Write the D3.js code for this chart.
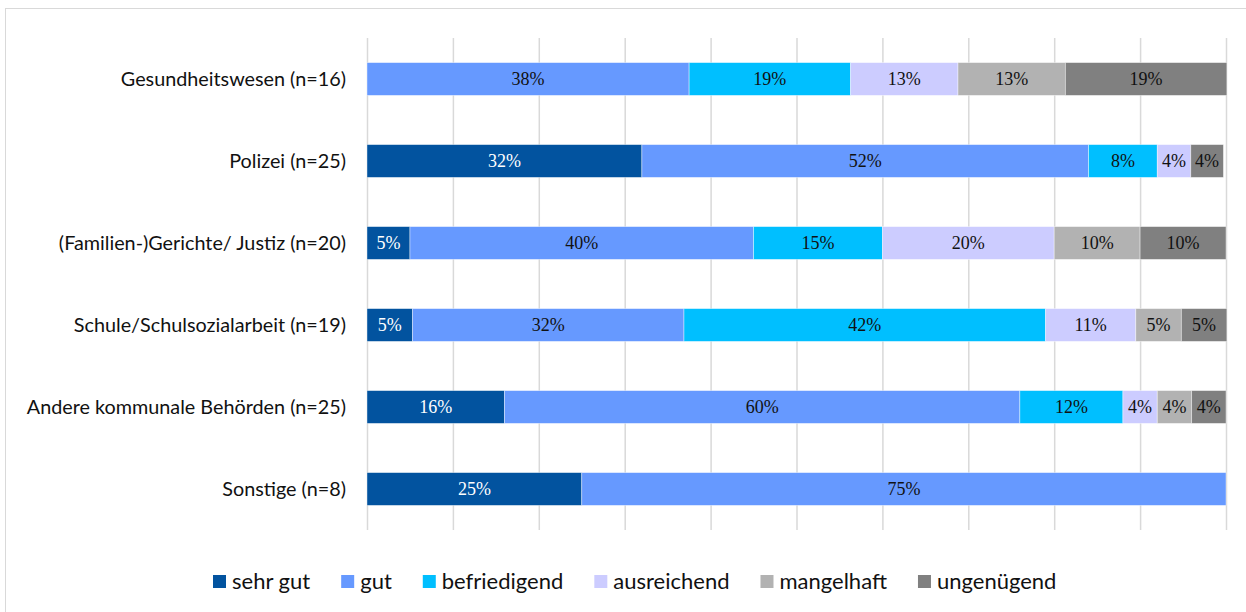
<!DOCTYPE html>
<html>
<head>
<meta charset="utf-8">
<script src="https://cdn.jsdelivr.net/npm/d3@7"></script>
<style>
	body{margin:0;background:#fff;}
</style>
</head>
<body>
<div id="chart"></div>
<script>
var categories=['Gesundheitswesen (n=16)','Polizei (n=25)','(Familien-)Gerichte/ Justiz (n=20)','Schule/Schulsozialarbeit (n=19)','Andere kommunale Behörden (n=25)','Sonstige (n=8)'];
var seriesNames=['sehr gut','gut','befriedigend','ausreichend','mangelhaft','ungenügend'];
// Prozentwerte je Kategorie
var sehrGut=[0,32,5,5.3,16,25];
var gut=[37.5,52,40,31.6,60,75];
var befriedigend=[18.8,8,15,42.1,12,0];
var ausreichend=[12.5,3.9,20,10.5,4,0];
var mangelhaft=[12.5,0,10,5.3,4,0];
var ungenuegend=[18.8,3.8,10,5.3,4,0];
var gridTicks=[0,10,20,30,40,50,60,70,80,90,100];

var seriesValues=[sehrGut,gut,befriedigend,ausreichend,mangelhaft,ungenuegend];
var colors=['#02539f','#6699ff','#00bfff','#ccccff','#b2b2b2','#808080'];
var textColors=['#fff','#111','#111','#111','#111','#111'];
var sansFont='Lato, "Open Sans", sans-serif';

var W=1246,H=612;
var svg=d3.select('#chart').append('svg').attr('width',W).attr('height',H);

svg.append('rect').attr('x',5.5).attr('y',8.5).attr('width',W).attr('height',H)
	.attr('fill','#fff').attr('stroke','#d9d9d9');

var x=d3.scaleLinear().domain([0,100]).range([367,1226]);
var y=d3.scaleBand().domain(categories).range([38,530]).paddingInner(0.6).paddingOuter(0.3);

//Gitterlinien
svg.append('g').selectAll('line').data(gridTicks).enter().append('line')
	.attr('x1',function(d){return x(d)+0.5;}).attr('x2',function(d){return x(d)+0.5;})
	.attr('y1',38).attr('y2',530)
	.attr('stroke','#d9d9d9').attr('stroke-width',1.5);

//gestapelte Daten
var rows=categories.map(function(c,i){
	var o={cat:c};
	seriesNames.forEach(function(s,j){o[s]=seriesValues[j][i];});
	return o;
});
var stack=d3.stack().keys(seriesNames)(rows);

var gBars=svg.append('g');
stack.forEach(function(layer,j){
	var g=gBars.append('g'),
		segs=layer.filter(function(d){return d[1]-d[0]>0;});
	g.selectAll('rect').data(segs).enter().append('rect')
		.attr('x',function(d){return x(d[0]);})
		.attr('y',function(d){return y(d.data.cat);})
		.attr('width',function(d){return x(d[1])-x(d[0]);})
		.attr('height',y.bandwidth())
		.attr('fill',colors[j])
		.attr('stroke','#fff').attr('stroke-opacity',0.5).attr('stroke-width',0.8);
	g.selectAll('text').data(segs).enter().append('text')
		.attr('x',function(d){return (x(d[0])+x(d[1]))/2;})
		.attr('y',function(d){return y(d.data.cat)+y.bandwidth()/2;})
		.attr('dy','0.35em')
		.attr('text-anchor','middle')
		.attr('font-family','"Liberation Serif", "Times New Roman", serif')
		.attr('font-size',18)
		.attr('fill',textColors[j])
		.text(function(d){return Math.round(d[1]-d[0])+'%';});
});

//Kategorien
svg.append('g').selectAll('text').data(categories).enter().append('text')
	.attr('x',346)
	.attr('y',function(d){return y(d)+y.bandwidth()/2;})
	.attr('dy','0.35em')
	.attr('text-anchor','end')
	.attr('font-family',sansFont)
	.attr('font-size',19.8)
	.attr('fill','#111')
	.text(function(d){return d;});

//Legende
var gLeg=svg.append('g'),
	lx=213;
seriesNames.forEach(function(s,j){
	gLeg.append('rect').attr('x',lx).attr('y',575).attr('width',13).attr('height',13).attr('fill',colors[j]);
	var t=gLeg.append('text').attr('x',lx+19).attr('y',581.5).attr('dy','0.35em')
		.attr('font-family',sansFont)
		.attr('font-size',22).attr('fill','#111').text(s);
	lx+=19+t.node().getComputedTextLength()+31;
});
</script>
</body>
</html>
